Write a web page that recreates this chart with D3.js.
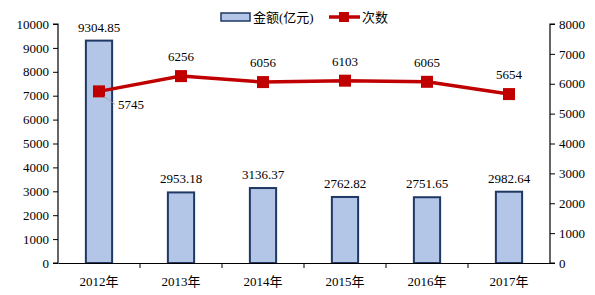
<!DOCTYPE html>
<html lang="zh">
<head>
<meta charset="UTF-8">
<title>金额与次数</title>
<script src="https://d3js.org/d3.v7.min.js"></script>
<style>
    body { margin: 0; background: #fff; }
    svg text { font-family: "Liberation Serif", "Times New Roman", "Noto Sans CJK SC", serif; font-size: 13px; fill: #000; }
</style>
</head>
<body>
<svg width="595" height="295"></svg>
<script>
    const years = ["2012年", "2013年", "2014年", "2015年", "2016年", "2017年"];
    const amounts = [9304.85, 2953.18, 3136.37, 2762.82, 2751.65, 2982.64];
    const counts = [5745, 6256, 6056, 6103, 6065, 5654];
    const leftTicks = [0, 1000, 2000, 3000, 4000, 5000, 6000, 7000, 8000, 9000, 10000];
    const rightTicks = [0, 1000, 2000, 3000, 4000, 5000, 6000, 7000, 8000];

    const svg = d3.select("svg");
    const plotLeft = 58, plotRight = 550, plotTop = 24, plotBottom = 263;
    const serif = '"Liberation Serif", "Times New Roman", "Noto Sans CJK SC", serif';

    const x = d3.scaleBand().domain(years).range([plotLeft, plotRight]).paddingInner(0.68).paddingOuter(0.34);
    const xb = d3.scaleBand().domain(years).range([plotLeft, plotRight]); // for ticks between categories
    const yL = d3.scaleLinear().domain([0, 10000]).range([plotBottom, plotTop]);
    const yR = d3.scaleLinear().domain([0, 8000]).range([plotBottom, plotTop]);

    // bars
    svg.append("g").selectAll("rect")
        .data(amounts)
        .enter().append("rect")
        .attr("x", (d, i) => x(years[i]))
        .attr("y", d => yL(d))
        .attr("width", x.bandwidth())
        .attr("height", d => yL(0) - yL(d))
        .attr("fill", "#b4c6e7")
        .attr("stroke", "#1f3864")
        .attr("stroke-width", 2);

    svg.append("g").selectAll("text")
        .data(amounts)
        .enter().append("text")
        .attr("x", (d, i) => xb(years[i]) + xb.bandwidth() / 2)
        .attr("y", d => yL(d) - 9)
        .attr("text-anchor", "middle")
        .text(d => d.toFixed(2));

    // left axis
    const axL = svg.append("g").attr("transform", `translate(${plotLeft},0)`)
        .call(d3.axisLeft(yL).tickValues(leftTicks).tickSize(5).tickPadding(4).tickFormat(d3.format("d")));
    // right axis
    const axR = svg.append("g").attr("transform", `translate(${plotRight},0)`)
        .call(d3.axisRight(yR).tickValues(rightTicks).tickSize(5).tickPadding(4).tickFormat(d3.format("d")));
    // x axis
    const axX = svg.append("g").attr("transform", `translate(0,${plotBottom})`)
        .call(d3.axisBottom(xb).tickSize(0).tickPadding(14));
    svg.append("g").selectAll("line")
        .data(years.slice(1))
        .enter().append("line")
        .attr("x1", d => xb(d)).attr("x2", d => xb(d))
        .attr("y1", plotBottom).attr("y2", plotBottom + 5)
        .attr("stroke", "#000");

    [axL, axR, axX].forEach(a => {
        a.attr("font-family", serif).attr("font-size", 13);
        a.select(".domain").attr("stroke", "#000").attr("stroke-width", 1.2);
        a.selectAll(".tick line").attr("stroke", "#000");
        a.selectAll("text").attr("font-family", serif).attr("fill", "#000");
    });
    axL.select(".domain").attr("d", `M-5,${plotTop}H0V${plotBottom}H-5`);
    axR.select(".domain").attr("d", `M5,${plotTop}H0V${plotBottom}H5`);

    // line
    const cx = i => xb(years[i]) + xb.bandwidth() / 2;
    const line = d3.line().x((d, i) => cx(i)).y(d => yR(d));
    svg.append("path")
        .datum(counts)
        .attr("d", line)
        .attr("fill", "none")
        .attr("stroke", "#c00000")
        .attr("stroke-width", 3.5);

    svg.append("g").selectAll("rect")
        .data(counts)
        .enter().append("rect")
        .attr("x", (d, i) => cx(i) - 6)
        .attr("y", d => yR(d) - 6)
        .attr("width", 12).attr("height", 12)
        .attr("fill", "#c00000");

    // count labels
    svg.append("g").selectAll("text")
        .data(counts)
        .enter().append("text")
        .attr("x", (d, i) => i === 0 ? cx(i) + 19 : cx(i))
        .attr("y", (d, i) => i === 0 ? yR(d) + 18 : yR(d) - 15)
        .attr("text-anchor", (d, i) => i === 0 ? "start" : "middle")
        .text(d => d);

    // leader line for first label
    svg.append("line")
        .attr("x1", cx(0) + 5).attr("y1", yR(counts[0]) + 5)
        .attr("x2", cx(0) + 16).attr("y2", yR(counts[0]) + 13)
        .attr("stroke", "#999").attr("stroke-width", 0.8);

    // legend
    const lg = svg.append("g");
    lg.append("rect").attr("x", 221).attr("y", 13).attr("width", 29).attr("height", 8)
        .attr("fill", "#b4c6e7").attr("stroke", "#1f3864").attr("stroke-width", 1.5);
    lg.append("text").attr("x", 253).attr("y", 22).text("金额(亿元)");
    lg.append("line").attr("x1", 329).attr("x2", 360).attr("y1", 17).attr("y2", 17)
        .attr("stroke", "#c00000").attr("stroke-width", 3.5);
    lg.append("rect").attr("x", 339).attr("y", 12).attr("width", 10).attr("height", 10).attr("fill", "#c00000");
    lg.append("text").attr("x", 362).attr("y", 22).text("次数");
</script>
</body>
</html>
